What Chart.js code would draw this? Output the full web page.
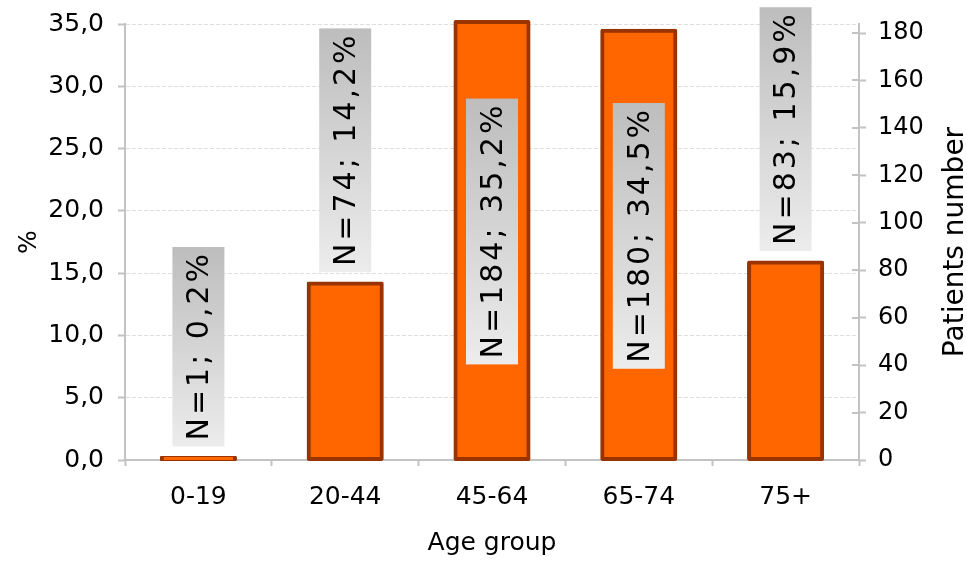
<!DOCTYPE html>
<html>
<head>
<meta charset="utf-8">
<script src="https://cdn.jsdelivr.net/npm/chart.js@4.4.0/dist/chart.umd.min.js"></script>
<style>
  html, body { margin: 0; padding: 0; background: #fff; }
  #wrap { width: 967px; height: 562px; }
</style>
</head>
<body>
<div id="wrap"><canvas id="ageChart"></canvas></div>
<script>
// === DATOS ===
const ageGroups = ["0-19", "20-44", "45-64", "65-74", "75+"];
const patients = [1, 74, 184, 180, 83];
const percents = [0.2, 14.2, 35.2, 34.5, 15.9];
const pctTicks = [0, 5, 10, 15, 20, 25, 30, 35];
const countTicks = [0, 20, 40, 60, 80, 100, 120, 140, 160, 180];

const FONT = "'DejaVu Sans', Verdana, sans-serif";
const AXIS_GRAY = "#c3c3c3";

// 35.2 -> "35,2"
function formatPct(v) {
  return v.toFixed(1).replace(".", ",");
}

// === ETIQUETAS N=..; ..% y titulo derecho ===
const barLabels = {
  id: "barLabels",
  afterDatasetsDraw(chart) {
    const ctx = chart.ctx;
    const meta = chart.getDatasetMeta(0);
    ctx.save();
    ctx.font = "30px " + FONT;
    ctx.letterSpacing = "3px";
    meta.data.forEach((bar, i) => {
      const text = "N=" + patients[i] + "; " + formatPct(percents[i]) + "%";
      const len = ctx.measureText(text).width + 10;
      const w = 52;
      const barH = bar.base - bar.y;
      let cy;
      if (barH > len + 60) cy = (bar.y + bar.base) / 2 - 9;
      else cy = bar.y - 11 - len / 2;
      const y0 = cy - len / 2;
      const grad = ctx.createLinearGradient(0, y0, 0, y0 + len);
      grad.addColorStop(0, "#bdbdbd");
      grad.addColorStop(1, "#ececec");
      ctx.fillStyle = grad;
      ctx.fillRect(bar.x - w / 2, y0, w, len);

      ctx.save();
      ctx.translate(bar.x, cy);
      ctx.rotate(-Math.PI / 2);
      ctx.fillStyle = "#000";
      ctx.textAlign = "center";
      ctx.textBaseline = "middle";
      ctx.fillText(text, 1, 2);
      ctx.restore();
    });
    ctx.restore();
  },
  afterDraw(chart) {
    const ctx = chart.ctx;
    const y2 = chart.scales.y2;
    ctx.save();
    // marcas hacia dentro del eje derecho (cruz)
    ctx.strokeStyle = AXIS_GRAY;
    ctx.lineWidth = 2;
    y2.ticks.forEach((t) => {
      const py = Math.round(y2.getPixelForValue(t.value));
      ctx.beginPath();
      ctx.moveTo(y2.left - 7, py);
      ctx.lineTo(y2.left, py);
      ctx.stroke();
    });
    // titulo eje derecho, leido de abajo hacia arriba
    ctx.translate(963, (chart.chartArea.top + chart.chartArea.bottom) / 2);
    ctx.rotate(-Math.PI / 2);
    ctx.font = "28px " + FONT;
    ctx.fillStyle = "#000";
    ctx.textAlign = "center";
    ctx.textBaseline = "alphabetic";
    ctx.fillText("Patients number", 0, 0);
    ctx.restore();
  }
};

// === GRAFICA ===
const ctx = document.getElementById("ageChart").getContext("2d");
new Chart(ctx, {
  type: "bar",
  data: {
    labels: ageGroups,
    datasets: [
      {
        label: "Patients",
        data: percents,
        yAxisID: "y",
        backgroundColor: "#ff6600",
        borderColor: "#993300",
        borderWidth: 4,
        inflateAmount: 1.5,
        borderRadius: 2,
        borderSkipped: false,
        barPercentage: 0.505,
        categoryPercentage: 1,
        clip: false
      }
    ]
  },
  options: {
    responsive: true,
    maintainAspectRatio: false,
    animation: false,
    layout: { padding: { top: 24, left: 0, right: 0, bottom: 0 } },
    plugins: {
      legend: { display: false },
      tooltip: { enabled: false }
    },
    scales: {
      x: {
        offset: true,
        grid: {
          offset: true,
          drawOnChartArea: false,
          tickLength: 6,
          tickColor: AXIS_GRAY,
          tickWidth: 2
        },
        border: { color: AXIS_GRAY, width: 2 },
        ticks: { color: "#000", font: { family: FONT, size: 25 }, padding: 16 },
        title: {
          display: true,
          text: "Age group",
          color: "#000",
          font: { family: FONT, size: 25 },
          padding: { top: 0, bottom: 4 }
        },
        afterFit(scale) { scale.height = 102; scale.paddingLeft = 0; scale.paddingRight = 0; }
      },
      y: {
        position: "left",
        min: 0,
        max: 35,
        afterBuildTicks(scale) { scale.ticks = pctTicks.map((v) => ({ value: v })); },
        grid: {
          color: "#dedede",
          lineWidth: 1,
          tickLength: 7,
          tickColor: AXIS_GRAY,
          tickWidth: 2,
          tickBorderDash: []
        },
        border: { color: AXIS_GRAY, width: 2, dash: [4, 2] },
        ticks: {
          color: "#000",
          font: { family: FONT, size: 25 },
          padding: 14,
          callback: (v) => formatPct(v)
        },
        title: {
          display: true,
          text: "%",
          color: "#000",
          font: { family: FONT, size: 25 },
          padding: { top: 14, bottom: 0 }
        },
        afterFit(scale) { scale.width = 125; scale.paddingTop = 0; scale.paddingBottom = 0; }
      },
      y2: {
        position: "right",
        min: 0,
        max: 183.8,
        afterBuildTicks(scale) { scale.ticks = countTicks.map((v) => ({ value: v })); },
        grid: {
          drawOnChartArea: false,
          tickLength: 7,
          tickColor: AXIS_GRAY,
          tickWidth: 2
        },
        border: { color: AXIS_GRAY, width: 2 },
        ticks: { color: "#000", font: { family: FONT, size: 24 }, padding: 12 },
        afterFit(scale) { scale.width = 108; scale.paddingTop = 0; scale.paddingBottom = 0; }
      }
    }
  },
  plugins: [barLabels]
});
</script>
</body>
</html>
